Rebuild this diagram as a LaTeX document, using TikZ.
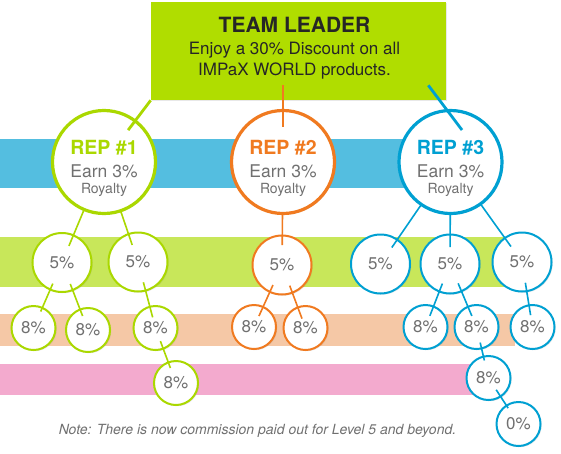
\documentclass[tikz,border=0pt]{standalone}
\usepackage{fontspec}
\setmainfont{TeX Gyre Heros}
\usepackage{xcolor}
\usepackage{tikz}
\usetikzlibrary{calc,shadows}

\definecolor{leadgreen}{RGB}{176,221,0}
\definecolor{repgreen}{RGB}{170,216,0}
\definecolor{reporange}{RGB}{240,122,32}
\definecolor{repblue}{RGB}{0,160,210}
\definecolor{bandblue}{RGB}{84,190,224}
\definecolor{bandgreen}{RGB}{200,231,90}
\definecolor{bandpeach}{RGB}{245,200,166}
\definecolor{bandpink}{RGB}{243,170,206}
\definecolor{txtgray}{RGB}{112,112,112}

\begin{document}
\begin{tikzpicture}[x=1pt,y=-1pt,semithick]
\tikzstyle{softshadow}=[drop shadow={shadow xshift=1.2pt,shadow yshift=-1.2pt,opacity=0.18}]
\tikzstyle{leaderbox}=[rectangle,fill=leadgreen,minimum width=295pt,minimum height=98pt,softshadow]
\tikzstyle{rep}=[circle,draw,fill=white,line width=3.2pt,minimum size=103pt,inner sep=0pt,softshadow]
\tikzstyle{tierfive}=[circle,draw,fill=white,line width=2pt,minimum size=59pt,inner sep=0pt,text=txtgray,font=\fontsize{17}{17}\selectfont,softshadow]
\tikzstyle{tiereight}=[tierfive,minimum size=44pt]
\tikzstyle{reptitle}=[anchor=base,inner sep=0pt,font=\fontsize{19.5}{20}\selectfont\bfseries]
\tikzstyle{earn}=[anchor=base,inner sep=0pt,text=txtgray,font=\fontsize{17.5}{18}\selectfont]
\tikzstyle{royalty}=[anchor=base,inner sep=0pt,text=txtgray,font=\fontsize{14}{14}\selectfont]
\tikzstyle{offer}=[anchor=base,inner sep=0pt,text=black!85,font=\fontsize{17}{17}\selectfont]
\tikzstyle{leaderline}=[line width=2.8pt]
\tikzstyle{treeline}=[line width=1.6pt]
\useasboundingbox (0,0) rectangle (561,453);

% levels
\fill[bandblue] (0,139) rectangle (425,188);
\fill[bandgreen] (0,237) rectangle (512,287);
\fill[bandpeach] (0,314) rectangle (515,346);
\fill[bandpink] (0,364) rectangle (475,395);

% team leader
\node[leaderbox] (leader) at (298.5,51) {};
\node[anchor=base,inner sep=0pt,text=black!85,font=\fontsize{21}{21}\selectfont\bfseries] (title) at (294.5,32.3) {TEAM LEADER};
\node[offer] (offer1) at (294.5,54) {Enjoy a 30\% Discount on all};
\node[offer] (offer2) at (294.5,75) {IMPaX WORLD products.};

% reps
\node[rep,draw=repgreen] (rep1) at (104,162) {};
\node[rep,draw=reporange] (rep2) at (283,162) {};
\node[rep,draw=repblue] (rep3) at (450.5,162) {};
\node[reptitle,text=repgreen] (rep1name) at (104,154) {REP \#1};
\node[reptitle,text=reporange] (rep2name) at (283,154) {REP \#2};
\node[reptitle,text=repblue] (rep3name) at (450.5,154) {REP \#3};
\node[earn] (rep1earn) at (104,177.3) {Earn 3\%};
\node[earn] (rep2earn) at (283,177.3) {Earn 3\%};
\node[earn] (rep3earn) at (450.5,177.3) {Earn 3\%};
\node[royalty] (rep1roy) at (104,193.3) {Royalty};
\node[royalty] (rep2roy) at (283,193.3) {Royalty};
\node[royalty] (rep3roy) at (450.5,193.3) {Royalty};

\draw[leaderline,repgreen,shorten >=40pt] (leader.south west) -- (rep1.center);
\draw[leaderline,reporange,shorten >=35pt] ($(rep2.center |- leader.south)+(0,-15)$) -- (rep2.center);
\draw[leaderline,repblue] ($(leader.south east)+(-18,-15)$) -- ($(rep3.center)+(11.5,-32)$);

% second level
\node[tierfive,draw=repgreen] (g5a) at (62,262.5) {5\%};
\node[tierfive,draw=repgreen] (g5b) at (138,262) {5\%};
\node[tierfive,draw=reporange] (o5) at (282,265) {5\%};
\node[tierfive,draw=repblue] (b5a) at (380.5,264) {5\%};
\node[tierfive,draw=repblue] (b5b) at (450,264) {5\%};
\node[tierfive,draw=repblue] (b5c) at (522,262) {5\%};

% third level
\node[tiereight,draw=repgreen] (g8a) at (33.5,328) {8\%};
\node[tiereight,draw=repgreen] (g8b) at (88,330) {8\%};
\node[tiereight,draw=repgreen] (g8c) at (155.5,328) {8\%};
\node[tiereight,draw=reporange] (o8a) at (254,327) {8\%};
\node[tiereight,draw=reporange] (o8b) at (305.5,328) {8\%};
\node[tiereight,draw=repblue] (b8a) at (425.5,327) {8\%};
\node[tiereight,draw=repblue] (b8b) at (476.5,327) {8\%};
\node[tiereight,draw=repblue] (b8c) at (532.5,327) {8\%};

% fourth and fifth level
\node[tiereight,draw=repgreen] (g8d) at (176,383) {8\%};
\node[tiereight,draw=repblue] (b8d) at (488.5,378) {8\%};
\node[tiereight,draw=repblue] (b0) at (518.5,424) {0\%};

\draw[treeline,repgreen,shorten <=52pt,shorten >=18pt] (rep1.center) -- (g5a.center);
\draw[treeline,repgreen,shorten <=52pt,shorten >=18pt] (rep1.center) -- (g5b.center);
\draw[treeline,reporange,shorten <=52pt,shorten >=20pt] (rep2.center) -- (o5.center);
\draw[treeline,repblue,shorten <=52pt,shorten >=20pt] (rep3.center) -- (b5a.center);
\draw[treeline,repblue,shorten <=52pt,shorten >=17pt] (rep3.center) -- (b5b.center);
\draw[treeline,repblue,shorten <=52pt,shorten >=19pt] (rep3.center) -- (b5c.center);

\draw[treeline,repgreen,shorten <=23pt,shorten >=18pt] (g5a.center) -- (g8a.center);
\draw[treeline,repgreen,shorten <=23pt,shorten >=15pt] (g5a.center) -- (g8b.center);
\draw[treeline,repgreen,shorten <=21pt,shorten >=11pt] (g5b.center) -- (g8c.center);
\draw[treeline,reporange,shorten <=22pt,shorten >=12pt] (o5.center) -- (o8a.center);
\draw[treeline,reporange,shorten <=22pt,shorten >=10pt] (o5.center) -- (o8b.center);
\draw[treeline,repblue,shorten <=21pt,shorten >=12pt] (b5b.center) -- (b8a.center);
\draw[treeline,repblue,shorten <=21pt,shorten >=12pt] (b5b.center) -- (b8b.center);
\draw[treeline,repblue,shorten <=21pt,shorten >=12pt] (b5c.center) -- (b8c.center);

\draw[treeline,repgreen,shorten <=14pt,shorten >=16pt] (g8c.center) -- (g8d.center);
\draw[treeline,repblue,shorten <=16pt,shorten >=18pt] (b8b.center) -- (b8d.center);
\draw[treeline,repblue,shorten <=14pt,shorten >=19pt] (b8d.center) -- (b0.center);

\node[anchor=base,inner sep=0pt,text=txtgray,font=\fontsize{14}{14}\selectfont\itshape] (note) at (257.5,434) {Note: There is now commission paid out for Level 5 and beyond.};
\end{tikzpicture}
\end{document}
